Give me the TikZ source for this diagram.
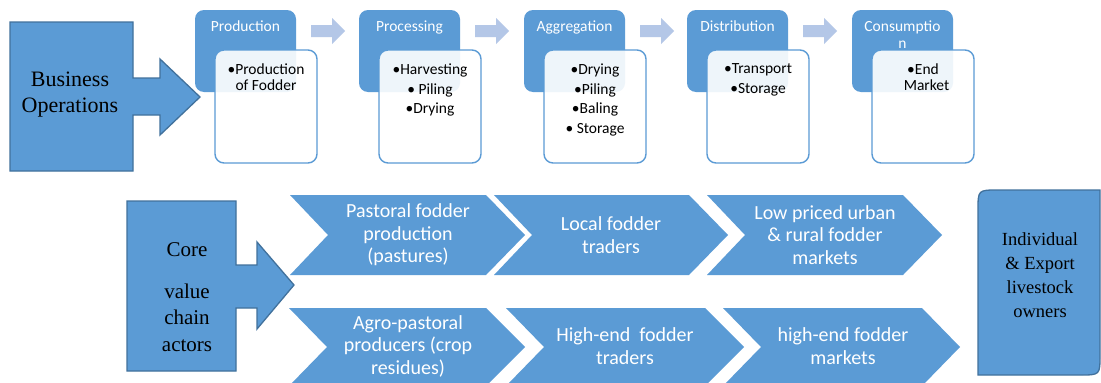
\documentclass[tikz,border=0pt]{standalone}
\usepackage{fontspec}
\setmainfont{Liberation Serif}
\newfontfamily\calib{Carlito}
\definecolor{blockblue}{HTML}{5B9BD5}
\definecolor{edgeblue}{HTML}{41719C}
\definecolor{flowblue}{HTML}{B4C7E7}

% one stage of the upper process: header tab, item card, title, items
% #1 left edge of the tab, #2 node prefix, #3 title, #4 items
\newcommand\stagecol[4]{%
  \node[stagehead] (#2h) at (#1+50.5,51) {};
  \node[stagebody] (#2b) at (#1+71,106.5) {};
  \node[stagetitle] (#2t) at (#1+50.5,21) {#3};
  \node[stageitems] (#2i) at (#1+71,63.5) {#4};
}
% chevron: #1 left x, #2 right corner x, #3 tip x, #4 top y, #5 bottom y
\newcommand\chevshape[5]{%
  \fill[chevron] (#1,#4) -- (#2,#4) -- (#3,{(#4+#5)/2}) -- (#2,#5) -- (#1,#5)
    -- (#1+38,{(#4+#5)/2}) -- cycle;
}

\begin{document}
\begin{tikzpicture}[x=1pt,y=-1pt,
  bigshape/.style={fill=blockblue,draw=edgeblue,line width=1.3pt,line join=miter},
  stagehead/.style={fill=blockblue,draw=none,rounded corners=9pt,
    minimum width=101pt,minimum height=82pt,inner sep=0pt},
  stagebody/.style={fill=white,fill opacity=0.9,draw=blockblue,draw opacity=1,
    line width=1.4pt,rounded corners=9pt,minimum width=102pt,minimum height=113pt,inner sep=0pt},
  stagetitle/.style={font=\calib\fontsize{15.5}{16.5}\selectfont,text=white,
    align=center,anchor=north,inner sep=0pt},
  stageitems/.style={font=\calib\fontsize{15.5}{16.5}\selectfont,text=black,
    align=center,anchor=north,inner sep=0pt},
  chevron/.style={fill=blockblue,draw=none},
  chevtext/.style={font=\calib\fontsize{20}{22.5}\selectfont,text=white,align=center,inner sep=0pt},
  serifbox/.style={align=center,inner sep=0pt,text=black}
]
\useasboundingbox (0,0) rectangle (1101,383);
\fill[white] (0,0) rectangle (1101,383);

% ---- upper row: business operations ----
\draw[bigshape] (10,22) -- (133,22) -- (133,78) -- (160,78) -- (160,59) -- (200,97)
  -- (160,135) -- (160,115) -- (133,115) -- (133,171) -- (10,171) -- cycle;
\node[serifbox,font=\fontsize{22}{26}\selectfont] (bizops) at (70,95) {Business\\Operations};

\stagecol{195}{prod}{Production}{\textbullet Production\\of Fodder}
\stagecol{359}{proc}{Processing}{\textbullet Harvesting\\[3.2pt]\textbullet\ Piling\\[3.2pt]\textbullet Drying}
\stagecol{524}{aggr}{Aggregation}{\textbullet Drying\\[3.2pt]\textbullet Piling\\[3.2pt]\textbullet Baling\\[3.2pt]\textbullet\ Storage}
\stagecol{687}{dist}{Distribution}{\textbullet Transport\\[3.2pt]\textbullet Storage}
\stagecol{852}{cons}{Consumptio\\n}{\textbullet End\\\ \ Market}

% light flow arrows between the stage tabs
\foreach \x in {195,359,524,687}
  \fill[flowblue] (\x+116,25) -- (\x+137,25) -- (\x+137,18) -- (\x+150,31)
    -- (\x+137,44) -- (\x+137,37) -- (\x+116,37) -- cycle;

% ---- lower row: core value chain actors ----
\draw[bigshape] (127,201) -- (236,201) -- (236,265) -- (257,265) -- (257,242) -- (294,285)
  -- (257,329) -- (257,308) -- (236,308) -- (236,371) -- (127,371) -- cycle;
\node[serifbox,font=\fontsize{21}{26.5}\selectfont] (core) at (187,297)
  {Core\\[15.5pt]value\\chain\\actors};

\chevshape{290}{486}{525}{195}{275}
\chevshape{494}{689}{728}{195}{275}
\chevshape{707}{903}{942}{195}{275}
\chevshape{289}{486}{525}{308}{386}
\chevshape{506}{705}{744}{308}{386}
\chevshape{723}{922}{960}{308}{386}

\node[chevtext] (past) at (408,235) {Pastoral fodder\\production\\(pastures)};
\node[chevtext] (loct) at (611,235) {Local fodder\\traders};
\node[chevtext] (lowm) at (825,235) {Low priced urban\\\& rural fodder\\markets};
\node[chevtext] (agro) at (408,346) {Agro-pastoral\\producers (crop\\residues)};
\node[chevtext] (hiet) at (625,346) {High-end\ \ fodder\\traders};
\node[chevtext] (hiem) at (843,346) {high-end fodder\\markets};

% final consumers
\draw[bigshape] (998,190) -- (1100,190) -- (1100,355) .. controls (1100,375) .. (1080,375)
  -- (978,375) -- (978,210) .. controls (978,190) .. (998,190) -- cycle;
\node[serifbox,font=\fontsize{18.5}{24}\selectfont] (owners) at (1040,275)
  {Individual\\\& Export\\livestock\\owners};
\end{tikzpicture}
\end{document}
